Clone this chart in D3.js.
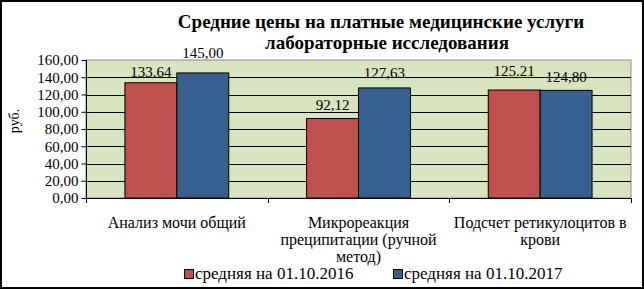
<!DOCTYPE html>
<html>
<head>
<meta charset="utf-8">
<script src="https://cdn.jsdelivr.net/npm/d3@7"></script>
<style>
  html, body { margin: 0; padding: 0; background: #fff; }
  svg { display: block; }
</style>
</head>
<body>
<div id="chart"></div>
<script>
// chart data
const categories = [
    ['Анализ мочи общий'],
    ['Микрореакция', 'преципитации (ручной', 'метод)'],
    ['Подсчет ретикулоцитов в', 'крови']
];
const seriesNames = ['средняя на 01.10.2016', 'средняя на 01.10.2017'];
const values2016 = [133.64, 92.12, 125.21];
const values2017 = [145.00, 127.63, 124.80];
const labels2016 = ['133.64', '92,12', '125.21'];
const labels2017 = ['145,00', '127,63', '124,80'];
const yTicks = [0, 20, 40, 60, 80, 100, 120, 140, 160];
const titleLines = ['Средние цены на платные медицинские услуги', 'лабораторные исследования'];

// how far above each bar its label sits (labels were hand-moved in the original)
const labelGap = [[6, 8.5, 14], [15, 10, 8.7]];

const W = 644, H = 289;
const FONT = 'Liberation Serif';
const colors = ['#C0504D', '#35608F'];
const plot = { left: 86, right: 631, top: 60, bottom: 198 };

const svg = d3.select('#chart').append('svg')
    .attr('width', W)
    .attr('height', H)
    .attr('font-family', FONT);

svg.append('rect')
    .attr('x', 1).attr('y', 1)
    .attr('width', W - 2).attr('height', H - 2)
    .attr('fill', '#fff')
    .attr('stroke', '#000')
    .attr('stroke-width', 2);

const x0 = d3.scaleBand()
    .domain(d3.range(categories.length))
    .range([plot.left, plot.right])
    .paddingInner(0)
    .paddingOuter(0);

const barW = x0.bandwidth() / 3.5;
const x1 = d3.scaleBand()
    .domain([0, 1])
    .range([0, barW * 2]);

const y = d3.scaleLinear()
    .domain([0, 160])
    .range([plot.bottom, plot.top]);

// plot background
svg.append('rect')
    .attr('x', plot.left).attr('y', plot.top)
    .attr('width', plot.right - plot.left)
    .attr('height', plot.bottom - plot.top)
    .attr('fill', '#D7E4BD')
    .attr('stroke', '#8c8c8c')
    .attr('stroke-width', 1);

// grid lines
svg.append('g')
    .selectAll('line')
    .data(yTicks.filter(t => t > 0 && t < 160))
    .enter()
    .append('line')
    .attr('x1', plot.left).attr('x2', plot.right)
    .attr('y1', d => Math.round(y(d)) + 0.5)
    .attr('y2', d => Math.round(y(d)) + 0.5)
    .attr('stroke', '#000')
    .attr('stroke-width', 1);

// y axis
const fmt = v => v.toFixed(2).replace('.', ',');
const yAxis = svg.append('g')
    .attr('transform', `translate(${plot.left + 0.5},0)`)
    .call(d3.axisLeft(y).tickValues(yTicks).tickSize(5).tickFormat(fmt))
    .attr('font-family', FONT)
    .attr('font-size', 15);
yAxis.select('.domain').attr('stroke', '#000').attr('d', `M0,${y(160)}V${y(0)}`);
yAxis.selectAll('.tick line').attr('stroke', '#000');
yAxis.selectAll('.tick text')
    .attr('x', -8)
    .attr('fill', '#000');

// bars
const series = [values2016, values2017];
const seriesLabels = [labels2016, labels2017];
series.forEach((vals, si) => {
    const g = svg.append('g');
    g.selectAll('rect')
        .data(vals)
        .enter()
        .append('rect')
        .attr('x', (d, i) => x0(i) + (x0.bandwidth() - barW * 2) / 2 + x1(si))
        .attr('y', d => y(d))
        .attr('width', x1.bandwidth())
        .attr('height', d => y(0) - y(d))
        .attr('fill', colors[si])
        .attr('stroke', '#000')
        .attr('stroke-width', 1);

    g.selectAll('text')
        .data(vals)
        .enter()
        .append('text')
        .attr('x', (d, i) => x0(i) + (x0.bandwidth() - barW * 2) / 2 + x1(si) + x1.bandwidth() / 2)
        .attr('y', (d, i) => y(d) - labelGap[si][i])
        .attr('text-anchor', 'middle')
        .attr('font-size', 15)
        .text((d, i) => seriesLabels[si][i]);
});

// x axis line and ticks
svg.append('line')
    .attr('x1', plot.left).attr('x2', plot.right)
    .attr('y1', plot.bottom + 0.5).attr('y2', plot.bottom + 0.5)
    .attr('stroke', '#000');
svg.append('g')
    .selectAll('line')
    .data(d3.range(categories.length + 1))
    .enter()
    .append('line')
    .attr('x1', i => Math.round(plot.left + i * x0.bandwidth()) + 0.5)
    .attr('x2', i => Math.round(plot.left + i * x0.bandwidth()) + 0.5)
    .attr('y1', plot.bottom)
    .attr('y2', plot.bottom + 5)
    .attr('stroke', '#000');

// category labels
categories.forEach((lines, i) => {
    const t = svg.append('text')
        .attr('text-anchor', 'middle')
        .attr('font-size', 16);
    lines.forEach((ln, k) => {
        t.append('tspan')
            .attr('x', x0(i) + x0.bandwidth() / 2)
            .attr('y', 228 + k * 17)
            .text(ln);
    });
});

// y axis title
svg.append('text')
    .attr('transform', 'translate(19,121) rotate(-90)')
    .attr('text-anchor', 'middle')
    .attr('font-size', 14)
    .text('руб.');

// title
svg.append('text')
    .attr('text-anchor', 'middle')
    .attr('font-size', 19)
    .attr('font-weight', 'bold')
    .selectAll('tspan')
    .data(titleLines)
    .enter()
    .append('tspan')
    .attr('x', (d, i) => i === 0 ? 381 : 387)
    .attr('y', (d, i) => 28 + i * 21)
    .text(d => d);

// legend
const legendX = [184, 393];
seriesNames.forEach((name, i) => {
    svg.append('rect')
        .attr('x', legendX[i] + 0.5).attr('y', 269.5)
        .attr('width', 9).attr('height', 9)
        .attr('fill', colors[i])
        .attr('stroke', '#000')
        .attr('stroke-width', 1);
    svg.append('text')
        .attr('x', legendX[i] + 11)
        .attr('y', 279)
        .attr('font-size', 17)
        .text(name);
});
</script>
</body>
</html>
